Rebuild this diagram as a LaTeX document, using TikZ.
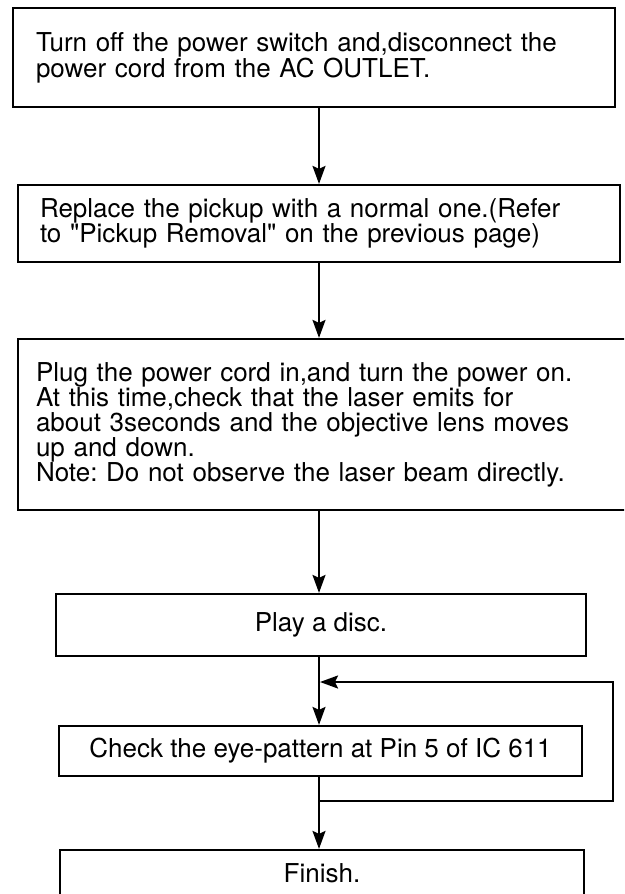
\documentclass[tikz,border=0pt]{standalone}
\usepackage{fontspec}
\setmainfont{TeX Gyre Heros}
\usetikzlibrary{arrows.meta}
\frenchspacing
\font\qfont="TeX Gyre Heros" at 26pt
\newcommand\straightquote{{\qfont\char34}}
\begin{document}
\begin{tikzpicture}[x=1pt,y=-1pt,
  box/.style={draw, line width=2.2pt, inner ysep=0pt, font=\fontsize{26}{25}\selectfont},
  flow/.style={line width=2pt, -{Stealth[length=18pt,width=13pt,inset=3pt]}},
  wire/.style={line width=2pt}]
\clip (0,0) rectangle (624,894);
\fill[white] (0,0) rectangle (624,894);
% axis of the vertical connectors
\coordinate (ax) at (319,0);
% boxes
\node[box, align=left, text width=556pt, inner xsep=23pt, minimum width=602pt, minimum height=99pt] (b1) at (314,57.5)
  {Turn off the power switch and,disconnect the\\power cord from the AC OUTLET.};
\node[box, align=left, text width=558pt, inner xsep=22pt, minimum width=602pt, minimum height=77pt] (b2) at (319,223.5)
  {Replace the pickup with a normal one.(Refer\\to \straightquote Pickup Removal\straightquote\ on the previous page)};
\node[box, align=left, text width=576pt, inner xsep=18pt, minimum width=612pt, minimum height=171pt] (b3) at (324,424.5)
  {Plug the power cord in,and turn the power on.\\At this time,check that the laser emits for\\about 3seconds and the objective lens moves\\up and down.\\Note: Do not observe the laser beam directly.};
\node[box, minimum width=530pt, minimum height=62pt] (b4) at (321,625) {Play a disc.};
\node[box, minimum width=523pt, minimum height=50pt] (b5) at (320.5,751) {Check the eye-pattern at Pin 5 of IC 611};
\node[box, minimum width=524pt, minimum height=46pt] (b6) at (322,873) {Finish.};
% loop coordinates
\coordinate (split) at (319,801);
\coordinate (lb) at (613,801);
\coordinate (lt) at (613,682);
\coordinate (join) at (320,682);
% connectors
\draw[flow] (b1.south -| ax) -- (b2.north -| ax);
\draw[flow] (b2.south -| ax) -- (b3.north -| ax);
\draw[flow] (b3.south -| ax) -- (b4.north -| ax);
\draw[flow] (b4.south -| ax) -- (b5.north -| ax);
\draw[wire] (b5.south -| ax) -- (split);
\draw[flow] (split) -- (b6.north -| ax);
\draw[flow] (split) -- (lb) -- (lt) -- (join);
\end{tikzpicture}
\end{document}
